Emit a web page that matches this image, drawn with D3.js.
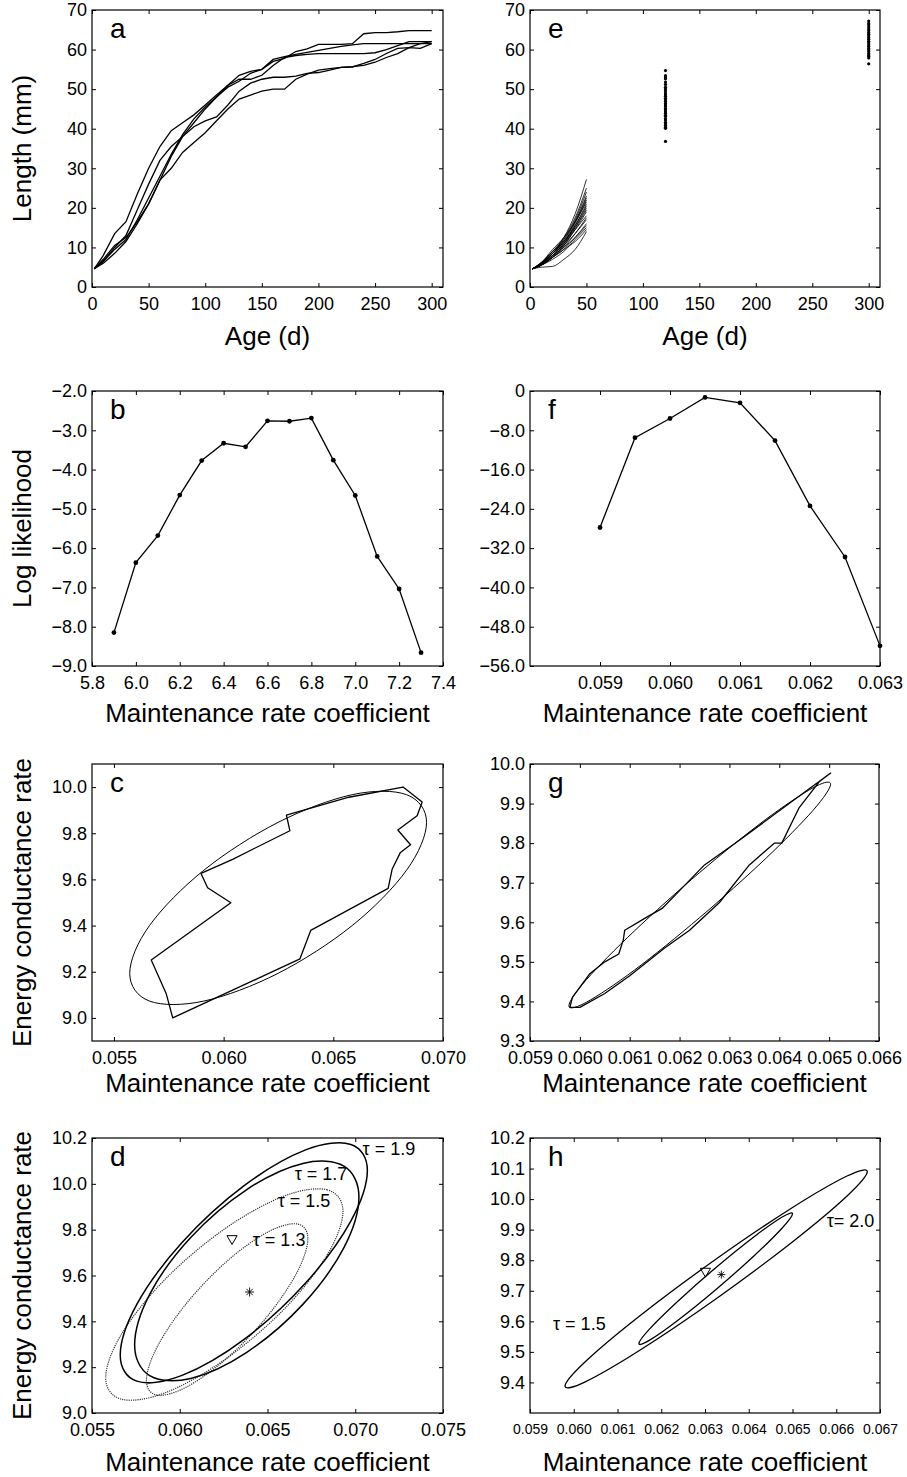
<!DOCTYPE html>
<html lang="en">
<head>
<meta charset="UTF-8">
<title>Growth and likelihood panels</title>
<script src="https://d3js.org/d3.v7.min.js"></script>
<style>
  body {margin: 0; background: #fff}
  text {font-family: 'Liberation Sans', Arial, Helvetica, sans-serif; fill: #000}
</style>
</head>
<body>
<script>
// ---------- panel a: observed growth curves ----------
const ageGrid = [2,10,20,30,40,50,60,70,80,90,100,110,120,130,140,150,160,170,180,190,200,210,220,230,240,250,260,270,280,290,300];
const lenA1 = [4.6,8,13.5,16.5,23.5,30,35.5,39.5,41.5,43.5,46,48.5,51,53.5,54.5,55,57,57.8,59.5,60.2,61.3,61.3,61.3,61.5,64,64.3,64.3,64.5,64.8,64.8,64.8];
const lenA2 = [4.6,6.5,10,13,19.5,26,32,35.5,38,40.5,42,43,46,49.5,51.5,52.5,53,53,53.3,54,54.2,54.8,55.5,55.7,56,56.8,58,59,60.5,61.5,62];
const lenA3 = [4.6,6,8.5,11.5,16,21,27,30,34,36.5,39,42,45,47.5,48.5,49.5,50,50,52.5,53.8,54.8,55.2,55.5,55.6,56.5,57.5,59,60.3,60.5,60.3,61.5];
const lenA4 = [4.6,6.5,9.5,12,17,22.5,28,33.5,38.5,42.5,45.5,48,51,52.5,52.5,53.5,56,58,58.5,58.8,59,59,59,59,59,59.2,60,61,62,62,62];
const lenA5 = [4.6,7,10.5,12.5,16.5,21,27,33,38,41.5,45,48,50.5,52,54,55,57.5,58.2,58.8,59.3,59.8,60.3,60.8,61.2,61.5,61.5,61.5,61.5,61.5,61.5,61.5];
const ageTicks = [0,50,100,150,200,250,300];
const lengthTicks = [0,10,20,30,40,50,60,70];

// ---------- panel e: simulated curves and samples ----------
const simAge = [2,10,20,30,40,50];
const simLines = [
  [4.6,6,8.5,12.5,18.5,27.2],
  [4.6,6.2,9,12.5,17.5,25],
  [4.6,6,8.5,12,17,24],
  [4.6,5.8,8.5,11.5,16.5,23],
  [4.6,6,9,12,16.5,22.5],
  [4.6,5.8,8,11,16,22],
  [4.6,6.2,9.5,12.5,16.5,21.5],
  [4.6,5.7,8,11,15.5,21],
  [4.6,6,8.5,11.5,15.5,20.5],
  [4.6,5.5,7.5,10.5,15,20],
  [4.6,6,9,11.5,15,19.5],
  [4.6,5.6,7.8,10.5,14.5,19],
  [4.6,5.8,8.5,11,14.5,18],
  [4.6,5.5,7.5,10,13.5,17.5],
  [4.6,6,8.5,10.5,13.5,17],
  [4.6,5.5,7.5,9.5,12.5,16],
  [4.6,5.8,8,10,12.5,15.5],
  [4.6,5.5,7,9,12,15],
  [4.6,5.5,7.5,9.5,11.5,14.5],
  [4.6,5,5.2,7,9.5,14]
];
const sampleAge1 = 120;
const sampleLen1 = [36.8,40.1,40.4,40.9,41.3,41.6,42.2,42.5,43.1,43.4,43.9,44.3,44.8,45.1,45.6,46.0,46.4,46.9,47.3,47.7,48.2,48.6,49.0,49.6,50.1,50.5,51.2,51.8,52.6,53.1,53.4,54.7];
const sampleAge2 = 300;
const sampleLen2 = [56.4,57.9,58.3,58.6,59.0,59.5,59.9,60.3,60.8,61.2,61.7,62.1,62.6,63.0,63.4,63.9,64.3,64.8,65.2,65.7,66.2,66.6,67.2];

// ---------- panel b / f: profile log likelihood ----------
const bRate = [5.9,6.0,6.1,6.2,6.3,6.4,6.5,6.6,6.7,6.8,6.9,7.0,7.1,7.2,7.3];
const bLogLik = [-8.15,-6.37,-5.68,-4.65,-3.77,-3.33,-3.42,-2.76,-2.77,-2.69,-3.76,-4.66,-6.21,-7.04,-8.66];
const bXTicks = [5.8,6.0,6.2,6.4,6.6,6.8,7.0,7.2,7.4];
const bYTicks = [-9,-8,-7,-6,-5,-4,-3,-2];

const fRate = [0.059,0.0595,0.060,0.0605,0.061,0.0615,0.062,0.0625,0.063];
const fLogLik = [-27.8,-9.5,-5.6,-1.3,-2.4,-10.1,-23.4,-33.8,-51.9];
const fXTicks = [0.059,0.060,0.061,0.062,0.063];
const fYTicks = [-56,-48,-40,-32,-24,-16,-8,0];

// ---------- panel c: contour and ellipse ----------
const cPolyK = [0.06818,0.06905,0.06882,0.06794,0.06852,0.06806,0.06768,0.0675,0.06397,0.06348,0.05768,0.05738,0.0567,0.06033,0.05927,0.05897,0.06041,0.06302,0.06286,0.06571];
const cPolyV = [10.0,9.935,9.876,9.814,9.75,9.717,9.644,9.561,9.379,9.256,9.0,9.106,9.251,9.499,9.564,9.626,9.687,9.811,9.879,9.956];
const cEllK = [0.06925,0.06834,0.06586,0.06248,0.05910,0.05662,0.05572,0.05662,0.05910,0.06248,0.06586,0.06834];
const cEllV = [9.847,9.967,9.967,9.847,9.640,9.400,9.193,9.073,9.073,9.193,9.400,9.640];
const cXTicks = [0.055,0.060,0.065,0.070];
const cYTicks = [9.0,9.2,9.4,9.6,9.8,10.0];

// ---------- panel g ----------
const gPolyK = [0.06503,0.06313,0.0625,0.0620,0.06165,0.0613,0.0609,0.06087,0.06078,0.0605,0.0602,0.05985,0.0598,0.0600,0.0605,0.0610,0.0617,0.0622,0.0628,0.0634,0.0639,0.06405,0.0644,0.0648];
const gPolyV = [9.977,9.801,9.745,9.68,9.635,9.61,9.58,9.555,9.52,9.50,9.47,9.41,9.385,9.385,9.42,9.465,9.535,9.58,9.65,9.745,9.80,9.80,9.89,9.955];
const gEllK = [0.06503,0.064678,0.063718,0.062405,0.061093,0.060132,0.05978,0.060132,0.061093,0.062405,0.063718,0.064678];
const gEllV = [9.949,9.940,9.859,9.726,9.578,9.455,9.389,9.398,9.479,9.612,9.760,9.883];
const gXTicks = [0.059,0.060,0.061,0.062,0.063,0.064,0.065,0.066];
const gYTicks = [9.3,9.4,9.5,9.6,9.7,9.8,9.9,10.0];

// ---------- panel d: confidence ellipses for several tau ----------
const dTauLabels = ["τ = 1.9","τ = 1.7","τ = 1.5","τ = 1.3"];
const dLabelK = [0.07042,0.06655,0.06558,0.06416];
const dLabelV = [10.125,10.015,9.898,9.727];
const dEll19K = [0.07069,0.069747,0.06717,0.06365,0.06013,0.057553,0.05661,0.057553,0.06013,0.06365,0.06717,0.069747];
const dEll19V = [10.059,10.172,10.148,9.991,9.744,9.474,9.252,9.139,9.164,9.320,9.567,9.837];
const dEll17K = [0.07021,0.069354,0.067015,0.06382,0.060625,0.058286,0.05743,0.058286,0.060625,0.06382,0.067015,0.069354];
const dEll17V = [9.943,10.077,10.089,9.975,9.766,9.518,9.297,9.163,9.151,9.265,9.474,9.722];
const dEll15K = [0.0693,0.068394,0.06592,0.06254,0.05916,0.056686,0.05578,0.056686,0.05916,0.06254,0.06592,0.068394];
const dEll15V = [9.88,9.974,9.946,9.8025,9.583,9.345,9.154,9.06,9.088,9.2315,9.451,9.689];
const dEll13K = [0.0673,0.066684,0.065,0.0627,0.0604,0.058716,0.0581,0.058716,0.0604,0.0627,0.065,0.066684];
const dEll13V = [9.761,9.825,9.789,9.663,9.48,9.289,9.142,9.078,9.114,9.24,9.423,9.614];
const dTriangle = [0.06298, 9.761];
const dStar = [0.06398, 9.528];
const dXTicks = [0.055,0.060,0.065,0.070,0.075];
const dYTicks = [9.0,9.2,9.4,9.6,9.8,10.0,10.2];

// ---------- panel h ----------
const hTauLabels = ["τ = 1.5","τ= 2.0"];
const hLabelK = [0.059526,0.065781];
const hLabelV = [9.571,9.909];
const hEll20K = [0.06671,0.066247,0.064983,0.063255,0.061528,0.060263,0.0598,0.060263,0.061528,0.063255,0.064983,0.066247];
const hEll20V = [10.09,10.0756,9.971,9.804,9.62,9.468,9.388,9.402,9.507,9.674,9.858,10.01];
const hEll15K = [0.065,0.064765,0.064123,0.063245,0.062367,0.061725,0.06149,0.061725,0.062367,0.063245,0.064123,0.064765];
const hEll15V = [9.952,9.9415,9.877,9.7755,9.664,9.5735,9.527,9.5375,9.602,9.7035,9.8146,9.9055];
const hTriangle = [0.06301, 9.764];
const hStar = [0.063373, 9.753];
const hXTicks = [0.059,0.060,0.061,0.062,0.063,0.064,0.065,0.066,0.067];
const hYTicks = [9.4,9.5,9.6,9.7,9.8,9.9,10.0,10.1,10.2];

// ================= drawing =================
const svg = d3.select("body").append("svg")
    .attr("width", 907).attr("height", 1477);

const f1 = d3.format(".1f"), f3 = d3.format(".3f"), fd = d3.format("d");

function styleAxis(sel, size) {
    sel.select(".domain").remove();
    sel.attr("font-size", size || 18);
    sel.selectAll("line").attr("stroke-width", 1);
}

function panel(o) {
    const g = svg.append("g").attr("transform", `translate(${o.left},${o.top})`);
    const x = d3.scaleLinear().domain(o.xDomain).range([0, o.w]);
    const y = d3.scaleLinear().domain(o.yDomain).range([o.h, 0]);

    g.append("g").attr("transform", `translate(0,${o.h})`)
        .call(d3.axisBottom(x).tickValues(o.xTicks).tickFormat(o.xFmt)
              .tickSizeInner(-4).tickSizeOuter(0).tickPadding(o.xFont ? 11 : 10))
        .call(styleAxis, o.xFont);
    g.append("g")
        .call(d3.axisLeft(y).tickValues(o.yTicks).tickFormat(o.yFmt)
              .tickSizeInner(-4).tickSizeOuter(0).tickPadding(5))
        .call(styleAxis, 18);
    g.append("g")
        .call(d3.axisTop(x).tickValues(o.xTicks).tickFormat(() => "")
              .tickSizeInner(-4).tickSizeOuter(0))
        .call(styleAxis);
    g.append("g").attr("transform", `translate(${o.w},0)`)
        .call(d3.axisRight(y).tickValues(o.yTicks).tickFormat(() => "")
              .tickSizeInner(-4).tickSizeOuter(0))
        .call(styleAxis);

    g.append("rect").attr("width", o.w).attr("height", o.h)
        .attr("fill", "none").attr("stroke", "#000").attr("stroke-width", 1.2);

    g.append("text").attr("x", 18).attr("y", 28)
        .attr("font-size", 28).text(o.letter);

    svg.append("text").attr("x", o.left + o.w / 2).attr("y", o.xTitleY)
        .attr("text-anchor", "middle").attr("font-size", 26).text(o.xTitle);
    if (o.yTitle) {
        svg.append("text")
            .attr("transform", `translate(31,${o.top + o.h / 2}) rotate(-90)`)
            .attr("text-anchor", "middle").attr("font-size", 26).text(o.yTitle);
    }
    return {g, x, y};
}

const mrc = "Maintenance rate coefficient";
const ecr = "Energy conductance rate";

function path(p, xs, ys, closed, curve) {
    const ln = d3.line().x(d => p.x(d[0])).y(d => p.y(d[1]));
    if (curve) ln.curve(curve);
    else if (closed) ln.curve(d3.curveLinearClosed);
    return p.g.append("path").attr("d", ln(d3.zip(xs, ys))).attr("fill", "none").attr("stroke", "#000");
}
const ellipseCurve = d3.curveCardinalClosed.tension(0);

function star(p, pt, r) {
    const cx = p.x(pt[0]), cy = p.y(pt[1]);
    [0, 45, 90, 135].forEach(a => {
        const dx = r * Math.cos(a * Math.PI / 180), dy = r * Math.sin(a * Math.PI / 180);
        p.g.append("line").attr("x1", cx - dx).attr("y1", cy - dy)
            .attr("x2", cx + dx).attr("y2", cy + dy)
            .attr("stroke", "#000").attr("stroke-width", 0.9);
    });
}
function triangle(p, pt, size) {
    p.g.append("path")
        .attr("d", d3.symbol().type(d3.symbolTriangle).size(size)())
        .attr("transform", `translate(${p.x(pt[0])},${p.y(pt[1])}) rotate(180)`)
        .attr("fill", "none").attr("stroke", "#000").attr("stroke-width", 1);
}

// ---- a ----
const pa = panel({left: 92, top: 10, w: 351, h: 277, xDomain: [0, 310], yDomain: [0, 70],
    xTicks: ageTicks, yTicks: lengthTicks, xFmt: fd, yFmt: fd, letter: "a",
    xTitle: "Age (d)", xTitleY: 345, yTitle: "Length (mm)"});
[lenA1, lenA2, lenA3, lenA4, lenA5].forEach(s =>
    path(pa, ageGrid, s).attr("stroke-width", 1.3));

// ---- e ----
const pe = panel({left: 530, top: 10, w: 350, h: 277, xDomain: [0, 310], yDomain: [0, 70],
    xTicks: ageTicks, yTicks: lengthTicks, xFmt: fd, yFmt: fd, letter: "e",
    xTitle: "Age (d)", xTitleY: 345});
simLines.forEach(s => path(pe, simAge, s, false, d3.curveMonotoneX).attr("stroke-width", 0.8));
pe.g.selectAll("circle.s1").data(sampleLen1).enter().append("circle")
    .attr("cx", pe.x(sampleAge1)).attr("cy", d => pe.y(d)).attr("r", 1.6);
pe.g.selectAll("circle.s2").data(sampleLen2).enter().append("circle")
    .attr("cx", pe.x(sampleAge2)).attr("cy", d => pe.y(d)).attr("r", 1.6);

// ---- b ----
const pb = panel({left: 92, top: 391, w: 351, h: 275, xDomain: [5.8, 7.4], yDomain: [-9, -2],
    xTicks: bXTicks, yTicks: bYTicks, xFmt: f1, yFmt: f1, letter: "b",
    xTitle: mrc, xTitleY: 722, yTitle: "Log likelihood"});
path(pb, bRate, bLogLik).attr("stroke-width", 1.3);
pb.g.selectAll("circle").data(d3.zip(bRate, bLogLik)).enter().append("circle")
    .attr("cx", d => pb.x(d[0])).attr("cy", d => pb.y(d[1])).attr("r", 2.4);

// ---- f ----
const pf = panel({left: 530, top: 391, w: 350, h: 275, xDomain: [0.058, 0.063], yDomain: [-56, 0],
    xTicks: fXTicks, yTicks: fYTicks, xFmt: f3, yFmt: d => d === 0 ? "0" : f1(d), letter: "f",
    xTitle: mrc, xTitleY: 722});
path(pf, fRate, fLogLik).attr("stroke-width", 1.3);
pf.g.selectAll("circle").data(d3.zip(fRate, fLogLik)).enter().append("circle")
    .attr("cx", d => pf.x(d[0])).attr("cy", d => pf.y(d[1])).attr("r", 2.4);

// ---- c ----
const pc = panel({left: 92, top: 764, w: 351, h: 277, xDomain: [0.054, 0.070], yDomain: [8.9, 10.1],
    xTicks: cXTicks, yTicks: cYTicks, xFmt: f3, yFmt: f1, letter: "c",
    xTitle: mrc, xTitleY: 1092, yTitle: ecr});
path(pc, cEllK, cEllV, true, ellipseCurve).attr("stroke-width", 1);
path(pc, cPolyK, cPolyV, true).attr("stroke-width", 1.3).attr("stroke-linejoin", "round");

// ---- g ----
const pg = panel({left: 530, top: 764, w: 349, h: 277, xDomain: [0.059, 0.066], yDomain: [9.3, 10.0],
    xTicks: gXTicks, yTicks: gYTicks, xFmt: f3, yFmt: f1, letter: "g",
    xTitle: mrc, xTitleY: 1092});
path(pg, gEllK, gEllV, true, ellipseCurve).attr("stroke-width", 1);
path(pg, gPolyK, gPolyV, true).attr("stroke-width", 1.3).attr("stroke-linejoin", "round");

// ---- d ----
const pd = panel({left: 92, top: 1138, w: 351, h: 275, xDomain: [0.055, 0.075], yDomain: [9.0, 10.2],
    xTicks: dXTicks, yTicks: dYTicks, xFmt: f3, yFmt: f1, letter: "d",
    xTitle: mrc, xTitleY: 1471, yTitle: ecr});
path(pd, dEll15K, dEll15V, true, ellipseCurve).attr("stroke", "#333")
    .attr("stroke-width", 1.2).attr("stroke-dasharray", "1.2,1");
path(pd, dEll13K, dEll13V, true, ellipseCurve).attr("stroke", "#333")
    .attr("stroke-width", 1.2).attr("stroke-dasharray", "1.2,1");
path(pd, dEll19K, dEll19V, true, ellipseCurve).attr("stroke-width", 1.5);
path(pd, dEll17K, dEll17V, true, ellipseCurve).attr("stroke-width", 1.5);
dTauLabels.forEach((t, i) => pd.g.append("text")
    .attr("x", pd.x(dLabelK[i])).attr("y", pd.y(dLabelV[i]))
    .attr("font-size", 18).text(t));
triangle(pd, dTriangle, 45);
star(pd, dStar, 4.5);

// ---- h ----
const ph = panel({left: 530, top: 1138, w: 350, h: 275, xDomain: [0.059, 0.067], yDomain: [9.3, 10.2],
    xTicks: hXTicks, yTicks: hYTicks, xFmt: f3, yFmt: f1, letter: "h", xFont: 14,
    xTitle: mrc, xTitleY: 1471});
path(ph, hEll20K, hEll20V, true, ellipseCurve).attr("stroke-width", 1.3);
path(ph, hEll15K, hEll15V, true, ellipseCurve).attr("stroke-width", 1.3);
hTauLabels.forEach((t, i) => ph.g.append("text")
    .attr("x", ph.x(hLabelK[i])).attr("y", ph.y(hLabelV[i]))
    .attr("font-size", 18).text(t));
triangle(ph, hTriangle, 45);
star(ph, hStar, 4);
</script>
</body>
</html>
